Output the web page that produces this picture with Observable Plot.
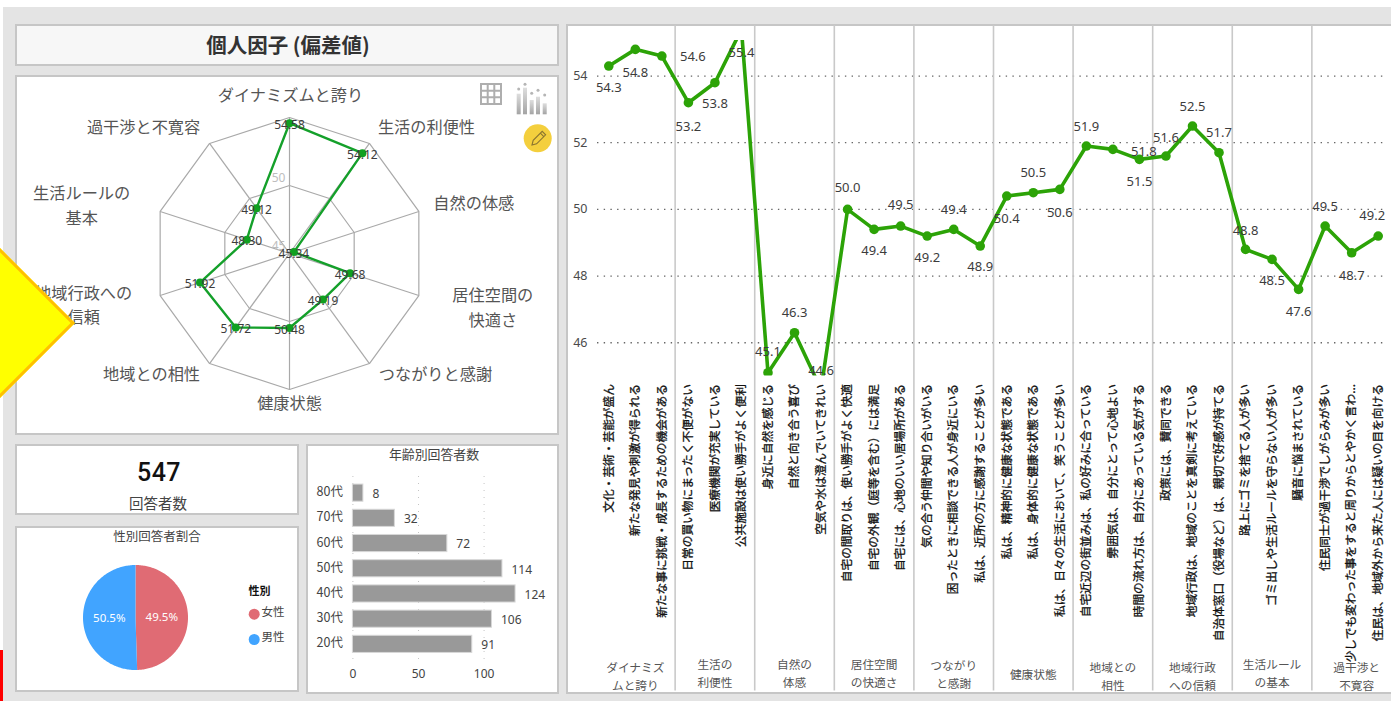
<!DOCTYPE html>
<html lang="ja">
<head>
<meta charset="utf-8">
<title>個人因子 (偏差値)</title>
<script src="https://cdn.jsdelivr.net/npm/d3@7"></script>
<script src="https://cdn.jsdelivr.net/npm/@observablehq/plot@0.6"></script>
<style>
  html, body { margin: 0; padding: 0; background: #fff; overflow: hidden; width: 1391px; height: 701px; }
  body { position: relative; font-family: "Noto Sans CJK JP", "Noto Sans", sans-serif; }
  .abs { position: absolute; }
  .panel { position: absolute; box-sizing: border-box; background: #fff; border: 2px solid #c6c6c6; }
  .heading { position: absolute; text-align: center; color: #444; white-space: nowrap; transform: translate(-50%, -50%); }
  svg { overflow: visible; }
</style>
</head>
<body>
<div class="abs" style="left:3px;top:7px;width:1388px;height:694px;background:#e4e4e4"></div>
<div class="abs" style="left:0;top:650px;width:3px;height:51px;background:#f00"></div>

<div class="panel" style="left:15px;top:24px;width:544px;height:42px;background:#f7f7f7"></div>
<div class="panel" style="left:15px;top:75px;width:544px;height:360px"></div>
<div class="panel" style="left:15px;top:444px;width:284px;height:71px"></div>
<div class="panel" style="left:15px;top:526px;width:284px;height:166px"></div>
<div class="panel" style="left:306px;top:444px;width:253px;height:250px"></div>
<div class="panel" style="left:566px;top:24px;width:840px;height:670px"></div>

<div class="heading" style="left:288px;top:44px;font-size:20.5px;font-weight:700;color:#333">個人因子 (偏差値)</div>
<div class="heading" style="left:159px;top:472px;font-family:Roboto;font-size:25px;font-weight:500;color:#111;letter-spacing:.5px">547</div>
<div class="heading" style="left:158px;top:502px;font-size:14.5px">回答者数</div>
<div class="heading" style="left:157px;top:535px;font-size:12.5px">性別回答者割合</div>
<div class="heading" style="left:434px;top:453px;font-size:12.9px">年齢別回答者数</div>

<svg class="abs" style="left:470px;top:75px" width="90" height="85" viewBox="0 0 90 85">
  <defs>
    <linearGradient id="fade" x1="0" y1="0" x2="0" y2="1">
      <stop offset="0" stop-color="#dedede"/><stop offset="1" stop-color="#a4a4a4"/>
    </linearGradient>
  </defs>
  <g fill="none" stroke="#aeaeae" stroke-width="2">
    <rect x="11" y="9" width="20" height="20"/>
    <path d="M17.7 9V29M24.3 9V29M11 15.7H31M11 22.3H31"/>
  </g>
  <g fill="url(#fade)">
    <rect x="46.7" y="18.7" width="4" height="20.6"/><rect x="53" y="12.7" width="4" height="26.6"/>
    <rect x="59.7" y="25" width="4" height="14.3"/><rect x="66" y="21.7" width="4" height="17.6"/>
    <rect x="72.7" y="28.3" width="4" height="11"/>
  </g>
  <g fill="#b5b5b5">
    <circle cx="48.7" cy="14" r="1.5"/><circle cx="55" cy="9.3" r="1.5"/><circle cx="61.7" cy="18.3" r="1.5"/>
    <circle cx="68" cy="15.3" r="1.5"/><circle cx="74.7" cy="20" r="1.5"/>
  </g>
  <circle cx="67.7" cy="63.3" r="14" fill="#f4cf3d"/>
  <path d="M62 70l1.2-4.6 9-9 3.4 3.4-9 9zM70.4 58.2l3.4 3.4" fill="none" stroke="#8a7430" stroke-width="1.1"/>
</svg>

<script>
// ---- 因子ごとの偏差値 (レーダー) ----
const radarFactors = ["ダイナミズムと誇り", "生活の利便性", "自然の体感", "居住空間の\n快適さ", "つながりと感謝", "健康状態", "地域との相性", "地域行政への\n信頼", "生活ルールの\n基本", "過干渉と不寛容"];
const radarScores = [54.58, 54.12, 45.34, 49.68, 49.19, 50.48, 51.72, 51.92, 48.30, 49.12];
const radarRings = [45, 50, 55];

// ---- 設問ごとの偏差値 (折れ線) ----
const itemLabels = [
  "文化・芸術・芸能が盛ん", "新たな発見や刺激が得られる", "新たな事に挑戦・成長するための機会がある",
  "日常の買い物にまったく不便がない", "医療機関が充実している", "公共施設は使い勝手がよく便利",
  "身近に自然を感じる", "自然と向き合う喜び", "空気や水は澄んでいてきれい",
  "自宅の間取りは、使い勝手がよく快適", "自宅の外観（庭等を含む）には満足", "自宅には、心地のいい居場所がある",
  "気の合う仲間や知り合いがいる", "困ったときに相談できる人が身近にいる", "私は、近所の方に感謝することが多い",
  "私は、精神的に健康な状態である", "私は、身体的に健康な状態である", "私は、日々の生活において、笑うことが多い",
  "自宅近辺の街並みは、私の好みに合っている", "雰囲気は、自分にとって心地よい", "時間の流れ方は、自分にあっている気がする",
  "政策には、賛同できる", "地域行政は、地域のことを真剣に考えている", "自治体窓口（役場など）は、親切で好感が持てる",
  "路上にゴミを捨てる人が多い", "ゴミ出しや生活ルールを守らない人が多い", "騒音に悩まされている",
  "住民同士が過干渉でしがらみが多い", "少しでも変わった事をすると周りからとやかく言わ...", "住民は、地域外から来た人には疑いの目を向ける"
];
const itemScores = [54.3, 54.8, 54.6, 53.2, 53.8, 55.4, 45.1, 46.3, 44.6, 50.0, 49.4, 49.5, 49.2, 49.4, 48.9, 50.4, 50.5, 50.6, 51.9, 51.8, 51.5, 51.6, 52.5, 51.7, 48.8, 48.5, 47.6, 49.5, 48.7, 49.2];
const itemGroups = ["ダイナミズ\nムと誇り", "生活の\n利便性", "自然の\n体感", "居住空間\nの快適さ", "つながり\nと感謝", "健康状態", "地域との\n相性", "地域行政\nへの信頼", "生活ルール\nの基本", "過干渉と\n不寛容"];

// ---- 回答者の内訳 ----
const ageGroups = ["80代", "70代", "60代", "50代", "40代", "30代", "20代"];
const ageCounts = [8, 32, 72, 114, 124, 106, 91];
const genders = ["女性", "男性"];
const genderShares = [49.5, 50.5];
const genderColors = ["#e06b74", "#41a4ff"];

const ink = "#444";
const digits = "'Noto Sans', sans-serif";
const cjk = "'Noto Sans CJK JP', sans-serif";
const baseStyle = {background: "transparent", fontFamily: cjk, overflow: "visible"};

function place(node, left, top) {
  node.style.position = "absolute";
  node.style.left = left + "px";
  node.style.top = top + "px";
  document.body.appendChild(node);
}

// レーダー: 偏差値45を中心、55を外周とする十角形
(function drawRadar() {
  const W = 544, H = 360, cx = 274, cy = 178, unit = 13.6;
  const angle = i => (i * 2 * Math.PI) / radarFactors.length;
  const toXY = (r, i) => [r * Math.sin(angle(i)), r * Math.cos(angle(i))];
  const floor = radarRings[0];
  const tip = radarRings[2] - floor;
  const ringRows = radarRings.flatMap(ring =>
    d3.range(radarFactors.length + 1).map(i => {
      const [x, y] = toXY(ring - floor, i % radarFactors.length);
      return {ring, x, y};
    }));
  const spokes = radarFactors.map((_, i) => {
    const [x, y] = toXY(tip, i);
    return {x, y};
  });
  const scorePts = radarScores.map((v, i) => {
    const [x, y] = toXY(v - floor, i);
    return {x, y, v};
  });
  // 軸名はスポーク先端からずらして配置する (ピクセル)
  const nameShift = [[1, -24], [57, -18], [55, -10], [74, 10], [66, 9], [0, 12], [-58, 9], [-76.5, 7.5], [-78.5, -8], [-66, -18]];
  const names = radarFactors.map((name, i) => ({
    name,
    x: spokes[i].x + nameShift[i][0] / unit,
    y: spokes[i].y - nameShift[i][1] / unit
  }));
  const node = Plot.plot({
    width: W, height: H, margin: 0, style: baseStyle,
    x: {domain: [-cx / unit, (W - cx) / unit], axis: null},
    y: {domain: [(cy - H) / unit, cy / unit], axis: null},
    marks: [
      Plot.line(ringRows, {x: "x", y: "y", z: "ring", stroke: "#a9a9a9", strokeWidth: 1.2}),
      Plot.link(spokes, {x1: 0, y1: 0, x2: "x", y2: "y", stroke: "#a9a9a9", strokeWidth: 1.2}),
      Plot.text(radarRings.slice(0, 2), {x: 0, y: d => d - floor, text: String, dx: -11, dy: -7, fill: "#bdbdbd", fontSize: 12, fontFamily: digits}),
      Plot.line([...scorePts, scorePts[0]], {x: "x", y: "y", stroke: "#14a02a", strokeWidth: 2.4}),
      Plot.dot(scorePts, {x: "x", y: "y", r: 4, fill: "#10a020"}),
      Plot.text(scorePts, {x: "x", y: "y", text: d => d.v.toFixed(2), dy: 2, fill: "#3c3c3c", fontSize: 12, fontFamily: digits}),
      Plot.text(names, {x: "x", y: "y", text: "name", fill: "#555", fontSize: 16.2, lineHeight: 1.53, lineAnchor: "middle", fontFamily: cjk})
    ]
  });
  place(node, 15, 75);
})();

// 性別割合: 扇形を多角形として描く
(function drawPie() {
  const slices = d3.pie().sort(null)(genderShares);
  const rows = slices.flatMap((s, k) => {
    const n = Math.ceil((s.endAngle - s.startAngle) / 0.02);
    const arc = d3.range(n + 1).map(j => {
      const a = s.startAngle + ((s.endAngle - s.startAngle) * j) / n;
      return {k, x: Math.sin(a), y: Math.cos(a)};
    });
    return [{k, x: 0, y: 0}, ...arc, {k, x: 0, y: 0}];
  });
  const tags = slices.map((s, k) => {
    const mid = (s.startAngle + s.endAngle) / 2;
    return {x: 0.5 * Math.sin(mid), y: 0.5 * Math.cos(mid), text: genderShares[k].toFixed(1) + "%"};
  });
  const legendY = [49.2, 74.5];
  const node = Plot.plot({
    width: 284, height: 164, marginLeft: 67.5, marginRight: 111.5, marginTop: 37.5, marginBottom: 21.5,
    style: baseStyle,
    x: {domain: [-1, 1], axis: null},
    y: {domain: [-1, 1], axis: null},
    marks: [
      Plot.line(rows, {x: "x", y: "y", z: "k", fill: d => genderColors[d.k], stroke: null}),
      Plot.text(tags, {x: "x", y: "y", text: "text", fill: "#fff", fontSize: 11.5, fontFamily: digits}),
      Plot.text(["性別"], {frameAnchor: "top-left", dx: 176.5, dy: 26, fontSize: 11, fontWeight: 700, fill: "#111", lineAnchor: "middle", textAnchor: "middle"}),
      ...genders.flatMap((g, i) => [
        Plot.dot([g], {frameAnchor: "top-left", dx: 171.2, dy: legendY[i], r: 5.5, fill: genderColors[i]}),
        Plot.text([g], {frameAnchor: "top-left", dx: 178.5, dy: legendY[i] - 2, fontSize: 11.5, fill: ink, textAnchor: "start", lineAnchor: "middle"})
      ])
    ]
  });
  place(node, 15, 527);
})();

// 年齢別回答者数
(function drawAges() {
  const rows = ageGroups.map((age, i) => ({age, n: ageCounts[i]}));
  const node = Plot.plot({
    width: 253, height: 248, marginLeft: 46.4, marginRight: 19, marginTop: 31, marginBottom: 32.5,
    style: baseStyle,
    x: {domain: [0, 143], ticks: [0, 50, 100], tickFormat: String, axis: null},
    y: {domain: ageGroups, padding: 0.32, round: false, axis: null},
    marks: [
      Plot.ruleX([0, 50, 100], {stroke: "#c4c4c4", strokeDasharray: "1 6", insetBottom: -2}),
      Plot.barX(rows, {y: "age", x: "n", fill: "#999", stroke: "#d8d8d8", strokeWidth: 1}),
      Plot.text(rows, {y: "age", x: "n", text: d => String(d.n), dx: 9, dy: 1, textAnchor: "start", fill: ink, fontSize: 12, fontFamily: digits}),
      Plot.axisY({tickSize: 0, tickPadding: 10, fontSize: 12.5, fill: ink, label: null, fontFamily: cjk, dy: -1}),
      Plot.axisX({ticks: [0, 50, 100], tickSize: 0, tickPadding: 8, fontSize: 12, fill: ink, label: null, fontFamily: digits})
    ]
  });
  place(node, 306, 445);
})();

// 設問別の折れ線: 3問ごとに因子で区切る
(function drawItems() {
  const rows = itemScores.map((v, i) => ({i, v}));
  const shiftX = new Map([[2, 31], [19, 31], [29, -6]]);
  const shiftY = [21.4, 23.4, 0.7, 23.7, 21, 23.4, -20.6, -20.2, -18.3, -21.8, 21.2, -21.5, 21.5, -19.8, 20.5, 22.6, -20.1, 23.2, -19.4, 2, 22.3, -18.7, -19.7, -20, -18.8, 21.9, 22.1, -18.8, 22.8, -20.5];
  const groupDy = [299, 296, 296, 296, 297, 297.5, 299, 299, 296, 299];
  const node = Plot.plot({
    width: 825, height: 668, marginLeft: 31, marginRight: 8, marginTop: 15, marginBottom: 317.4,
    style: baseStyle,
    x: {domain: [-0.426, 29.2], axis: null},
    y: {domain: [45, 55.066], axis: null},
    marks: [
      Plot.ruleY([46, 48, 50, 52, 54], {stroke: "#666", strokeWidth: 1.3, strokeDasharray: "1.4 5.3"}),
      Plot.ruleX(itemGroups.slice(1).map((_, k) => 2.5 + 3 * k), {stroke: "#c9c9c9", strokeWidth: 1.6, insetTop: -15, insetBottom: -315}),
      Plot.axisY({ticks: [46, 48, 50, 52, 54], tickSize: 0, tickPadding: 10, fontSize: 12.5, fill: "#4a4a4a", label: null, fontFamily: digits}),
      Plot.line(rows, {x: "i", y: "v", stroke: "#2ca307", strokeWidth: 3.6, clip: true}),
      Plot.dot(rows, {x: "i", y: "v", r: 4.8, fill: "#2ca307", clip: true}),
      ...rows.map((d, k) => Plot.text([d], {x: "i", y: "v", text: r => r.v.toFixed(1), dx: shiftX.get(k) ?? 0, dy: shiftY[k], fontSize: 13, fill: "#3c3c3c", fontFamily: digits})),
      Plot.text(itemLabels, {x: (_, i) => i, text: d => d, rotate: -90, textAnchor: "end", lineAnchor: "middle", frameAnchor: "bottom", dy: 8, fontSize: 11.7, fill: "#111", stroke: "#111", strokeWidth: 0.3, fontFamily: cjk}),
      ...itemGroups.map((g, k) => Plot.text([g], {x: () => 1 + 3 * k, text: d => d, frameAnchor: "bottom", dy: groupDy[k], dx: k === 9 ? 5 : 0, fontSize: 11.7, lineHeight: 1.52, lineAnchor: "middle", fill: "#555", fontFamily: cjk}))
    ]
  });
  place(node, 566, 25);
})();
</script>

<div class="abs" style="left:-53px;top:270px;width:106px;height:106px;box-sizing:border-box;background:#ffff00;border:3px solid #ffc000;transform:rotate(45deg)"></div>
</body>
</html>
